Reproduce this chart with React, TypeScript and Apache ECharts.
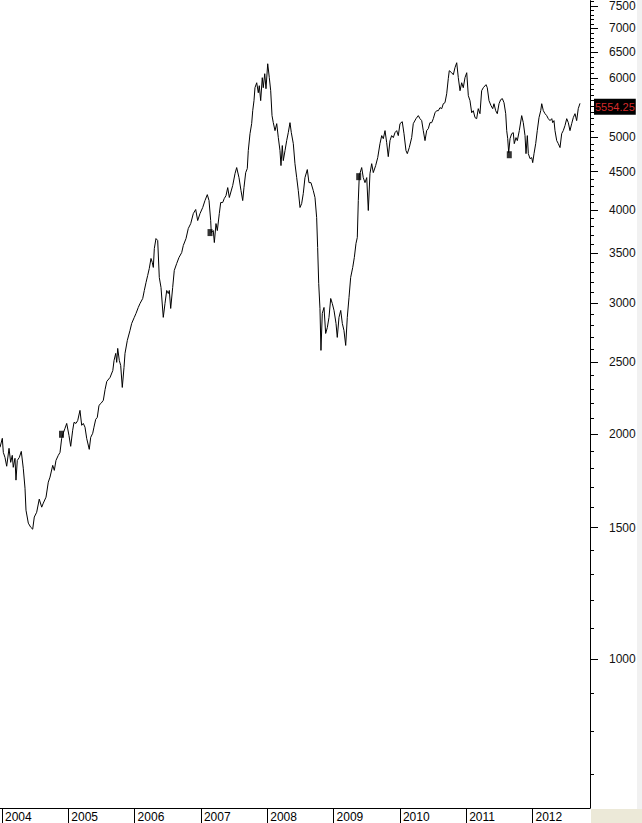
import React, { useEffect, useRef } from "react";
import * as echarts from "echarts";

// Weekly close (decimal year)
const dates = [
  2003.970, 2004.005, 2004.020, 2004.045, 2004.071, 2004.106, 2004.131, 2004.155, 2004.170, 2004.196,
  2004.211, 2004.231, 2004.261, 2004.291, 2004.321, 2004.347, 2004.362, 2004.397, 2004.433, 2004.463,
  2004.487, 2004.523, 2004.562, 2004.599, 2004.623, 2004.664, 2004.698, 2004.724, 2004.765, 2004.789,
  2004.814, 2004.849, 2004.875, 2004.900, 2004.924, 2004.950, 2004.976, 2005.010, 2005.036, 2005.066,
  2005.086, 2005.116, 2005.142, 2005.176, 2005.202, 2005.226, 2005.252, 2005.277, 2005.316, 2005.338,
  2005.368, 2005.387, 2005.413, 2005.437, 2005.463, 2005.493, 2005.528, 2005.555, 2005.580, 2005.630,
  2005.671, 2005.690, 2005.715, 2005.730, 2005.745, 2005.769, 2005.790, 2005.814, 2005.840, 2005.855,
  2005.890, 2005.930, 2005.956, 2005.995, 2006.021, 2006.055, 2006.081, 2006.122, 2006.146, 2006.172,
  2006.197, 2006.221, 2006.247, 2006.267, 2006.282, 2006.297, 2006.322, 2006.348, 2006.372, 2006.398,
  2006.432, 2006.458, 2006.484, 2006.508, 2006.523, 2006.544, 2006.574, 2006.598, 2006.634, 2006.669,
  2006.710, 2006.734, 2006.775, 2006.809, 2006.846, 2006.885, 2006.921, 2006.951, 2006.986, 2007.027,
  2007.061, 2007.096, 2007.122, 2007.147, 2007.156, 2007.186, 2007.202, 2007.227, 2007.247, 2007.277,
  2007.298, 2007.328, 2007.352, 2007.378, 2007.404, 2007.428, 2007.479, 2007.514, 2007.539, 2007.574,
  2007.604, 2007.630, 2007.649, 2007.675, 2007.699, 2007.714, 2007.740, 2007.765, 2007.781, 2007.800,
  2007.815, 2007.841, 2007.865, 2007.880, 2007.901, 2007.925, 2007.940, 2007.962, 2007.981, 2008.007,
  2008.031, 2008.052, 2008.072, 2008.091, 2008.117, 2008.143, 2008.167, 2008.192, 2008.207, 2008.227,
  2008.242, 2008.268, 2008.293, 2008.317, 2008.343, 2008.363, 2008.393, 2008.418, 2008.444, 2008.468,
  2008.494, 2008.519, 2008.543, 2008.569, 2008.604, 2008.629, 2008.659, 2008.694, 2008.720, 2008.745,
  2008.760, 2008.776, 2008.795, 2008.810, 2008.830, 2008.856, 2008.881, 2008.906, 2008.931, 2008.957,
  2008.981, 2009.007, 2009.037, 2009.056, 2009.082, 2009.108, 2009.132, 2009.157, 2009.183, 2009.207,
  2009.233, 2009.258, 2009.289, 2009.313, 2009.338, 2009.358, 2009.373, 2009.388, 2009.424, 2009.448,
  2009.474, 2009.500, 2009.524, 2009.549, 2009.575, 2009.599, 2009.635, 2009.666, 2009.700, 2009.726,
  2009.750, 2009.776, 2009.801, 2009.825, 2009.851, 2009.876, 2009.901, 2009.926, 2009.952, 2009.976,
  2010.002, 2010.036, 2010.062, 2010.092, 2010.112, 2010.142, 2010.178, 2010.202, 2010.243, 2010.278,
  2010.303, 2010.329, 2010.353, 2010.379, 2010.404, 2010.429, 2010.454, 2010.480, 2010.504, 2010.530,
  2010.555, 2010.580, 2010.605, 2010.631, 2010.655, 2010.680, 2010.706, 2010.730, 2010.745, 2010.781,
  2010.806, 2010.831, 2010.857, 2010.881, 2010.907, 2010.932, 2010.956, 2010.982, 2011.008, 2011.032,
  2011.057, 2011.083, 2011.107, 2011.133, 2011.158, 2011.182, 2011.208, 2011.233, 2011.258, 2011.299,
  2011.318, 2011.344, 2011.374, 2011.400, 2011.419, 2011.445, 2011.469, 2011.495, 2011.520, 2011.545,
  2011.570, 2011.596, 2011.611, 2011.626, 2011.641, 2011.661, 2011.686, 2011.710, 2011.725, 2011.751,
  2011.771, 2011.801, 2011.837, 2011.861, 2011.887, 2011.902, 2011.922, 2011.937, 2011.963, 2011.988,
  2012.003, 2012.023, 2012.048, 2012.072, 2012.098, 2012.124, 2012.139, 2012.163, 2012.189, 2012.214,
  2012.238, 2012.264, 2012.290, 2012.305, 2012.324, 2012.339, 2012.365, 2012.389, 2012.415, 2012.440,
  2012.464, 2012.490, 2012.516, 2012.540, 2012.565, 2012.591, 2012.615, 2012.641, 2012.666, 2012.690,
  2012.716,
];

const values = [
  1922, 1976, 1892, 1863, 1813, 1916, 1835, 1875, 1807, 1858,
  1737, 1846, 1863, 1898, 1802, 1694, 1583, 1521, 1502, 1493,
  1550, 1573, 1638, 1598, 1618, 1648, 1726, 1753, 1818, 1790,
  1846, 1875, 1892, 1976, 2007, 2038, 2069, 1994, 1928, 2026,
  2076, 2069, 2088, 2154, 2057, 2069, 2045, 1976, 1910, 1982,
  2007, 2045, 2095, 2108, 2188, 2201, 2222, 2298, 2355, 2385,
  2436, 2513, 2568, 2498, 2608, 2513, 2474, 2312, 2459, 2568,
  2673, 2756, 2817, 2870, 2905, 2959, 2995, 3042, 3118, 3196,
  3266, 3337, 3442, 3399, 3348, 3549, 3660, 3638, 3246, 3147,
  2870, 2995, 3118, 3089, 3118, 2950, 3147, 3317, 3388, 3452,
  3505, 3582, 3660, 3775, 3833, 3953, 4003, 3869, 3953, 4028,
  4115, 4191, 4115, 3869, 3728, 3751, 3615, 3833, 3751, 3953,
  4090, 4090, 4141, 4178, 4283, 4154, 4310, 4472, 4556, 4417,
  4244, 4115, 4283, 4486, 4542, 4801, 5058, 5217, 5430, 5601,
  5829, 5919, 5739, 5865, 5601, 6012, 5829, 6086, 5811, 6276,
  6012, 5775, 5348, 5233, 5106, 5217, 4997, 4801, 4584, 4876,
  4655, 4801, 4951, 5074, 5233, 5074, 4905, 4611, 4417, 4244,
  4028, 4077, 4204, 4417, 4528, 4349, 4349, 4244, 4154, 3905,
  3560, 3186, 2950, 2592, 2905, 2959, 2731, 2782, 2870, 3042,
  2995, 2932, 2817, 2698, 2870, 2932, 2817, 2756, 2632, 2870,
  3052, 3246, 3348, 3452, 3604, 3672, 4115, 4445, 4556, 4417,
  4349, 4417, 3991, 4472, 4611, 4486, 4584, 4698, 4905, 5028,
  4981, 5106, 4920, 4712, 4951, 5028, 4997, 5074, 5106, 5028,
  5217, 5249, 5058, 4801, 4756, 4846, 4997, 5217, 5298, 5348,
  5298, 5266, 5106, 4951, 5106, 5138, 5233, 5233, 5298, 5396,
  5430, 5430, 5481, 5464, 5548, 5566, 5721, 5994, 6143, 6105,
  6067, 6200, 6296, 6012, 5775, 5919, 5829, 6012, 6105, 5688,
  5601, 5396, 5430, 5315, 5298, 5464, 5380, 5775, 5829, 5884,
  5829, 5601, 5516, 5464, 5548, 5430, 5380, 5548, 5618, 5636,
  5566, 5380, 5106, 4981, 4771, 4981, 5058, 5074, 4905, 4997,
  4951, 5106, 5348, 5233, 5028, 4756, 5028, 4756, 4683, 4698,
  4626, 4756, 4905, 5106, 5315, 5430, 5548, 5430, 5380, 5348,
  5298, 5266, 5298, 5233, 5266, 5106, 4951, 4905, 4846, 5058,
  5106, 5186, 5298, 5233, 5106, 5217, 5315, 5380, 5266, 5464,
  5554.25,
];

// Small square event markers on the line
const markerDates = [2004.897, 2007.137, 2009.379, 2011.65];
const markerValues = [2001, 3728, 4430, 4740];

const yearTicks = [2004, 2005, 2006, 2007, 2008, 2009, 2010, 2011, 2012];
const majorTicks = [1000, 1500, 2000, 2500, 3000, 3500, 4000, 4500, 5000, 5500, 6000, 6500, 7000, 7500];
// 5500 sits under the last-price box in the reference, so it is not labelled
const labelTicks = [1000, 1500, 2000, 2500, 3000, 3500, 4000, 4500, 5000, 6000, 6500, 7000, 7500];
const minorTicks = [
  700, 800, 900, 1000, 1100, 1200, 1300, 1400, 1500, 1600, 1700, 1800, 1900, 2000,
  2100, 2200, 2300, 2400, 2500, 2600, 2700, 2800, 2900, 3000, 3100, 3200, 3300, 3400,
  3500, 3600, 3700, 3800, 3900, 4000, 4100, 4200, 4300, 4400, 4500, 4600, 4700, 4800,
  4900, 5000, 5100, 5200, 5300, 5400, 5500, 5600, 5700, 5800, 5900, 6000, 6100, 6200,
  6300, 6400, 6500, 6600, 6700, 6800, 6900, 7000, 7100, 7200, 7300, 7400, 7500, 7600,
];

const FONT = "'Liberation Sans', Arial, sans-serif";

export default function App() {
  const ref = useRef<HTMLDivElement>(null);

  useEffect(() => {
    document.body.style.margin = "0";
    const chart = echarts.init(ref.current!, undefined, { renderer: "svg" });
    const lg = (v: number) => Math.log10(v);
    const lineData = dates.map((d, i) => [d, lg(values[i])]);
    const markerData = markerDates.map((d, i) => [d, lg(markerValues[i])]);
    const last = values[values.length - 1];
    const yMin = 2.8005;
    const yMax = 3.8822;

    chart.setOption({
      animation: false,
      backgroundColor: "#ffffff",
      grid: { left: 0, right: 52, top: 0, bottom: 15, containLabel: false },
      xAxis: {
        type: "value",
        min: 2003.97,
        max: 2012.867,
        position: "bottom",
        splitLine: { show: false },
        axisLine: { show: true, lineStyle: { color: "#000", width: 1 } },
        axisTick: {
          show: true,
          customValues: yearTicks,
          length: 15,
          inside: false,
          lineStyle: { color: "#000", width: 1 },
        },
        axisLabel: {
          show: true,
          customValues: yearTicks,
          formatter: (v: number) => String(Math.round(v)),
          align: "left",
          verticalAlign: "top",
          margin: 3,
          padding: [0, 0, 0, 3],
          color: "#000",
          fontSize: 12,
          fontFamily: FONT,
        },
      },
      yAxis: [
        {
          type: "value",
          position: "right",
          min: yMin,
          max: yMax,
          splitLine: { show: false },
          axisLine: { show: true, lineStyle: { color: "#000", width: 1 } },
          axisTick: {
            show: true,
            customValues: majorTicks.map(lg),
            length: 8,
            inside: false,
            lineStyle: { color: "#000", width: 1 },
          },
          axisLabel: {
            show: true,
            customValues: labelTicks.map(lg),
            formatter: (v: number) => String(Math.round(Math.pow(10, v) / 100) * 100),
            margin: 19,
            color: "#111",
            fontSize: 12,
            fontFamily: FONT,
          },
        },
        {
          type: "value",
          position: "right",
          min: yMin,
          max: yMax,
          splitLine: { show: false },
          axisLine: { show: false },
          axisTick: {
            show: true,
            customValues: minorTicks.map(lg),
            length: 4,
            inside: false,
            lineStyle: { color: "#000", width: 1 },
          },
          axisLabel: { show: false },
        },
      ],
      series: [
        {
          type: "line",
          data: lineData,
          yAxisIndex: 0,
          showSymbol: false,
          symbol: "none",
          lineStyle: { color: "#000", width: 1 },
          silent: true,
          z: 2,
          markLine: {
            silent: true,
            symbol: "none",
            lineStyle: { color: "transparent", width: 0 },
            data: [{ yAxis: lg(last) }],
            label: {
              show: true,
              position: "end",
              distance: 4,
              formatter: () => last.toFixed(2),
              backgroundColor: "#000",
              color: "#d42a2a",
              fontSize: 11,
              fontFamily: FONT,
              padding: [3, 1, 2, 1],
              lineHeight: 11,
            },
          },
        },
        {
          type: "scatter",
          data: markerData,
          yAxisIndex: 0,
          symbol: "rect",
          symbolSize: [5, 7],
          itemStyle: { color: "#000" },
          silent: true,
          z: 3,
        },
      ],
      graphic: [
        { type: "rect", shape: { x: 591, y: 809, width: 51, height: 14 }, style: { fill: "#ece9d8" }, z: -1 },
        { type: "rect", shape: { x: 637, y: 0, width: 5, height: 809 }, style: { fill: "#f1f1f1" }, z: -1 },
      ],
    });

    return () => chart.dispose();
  }, []);

  return <div ref={ref} style={{ width: 642, height: 823 }} />;
}
